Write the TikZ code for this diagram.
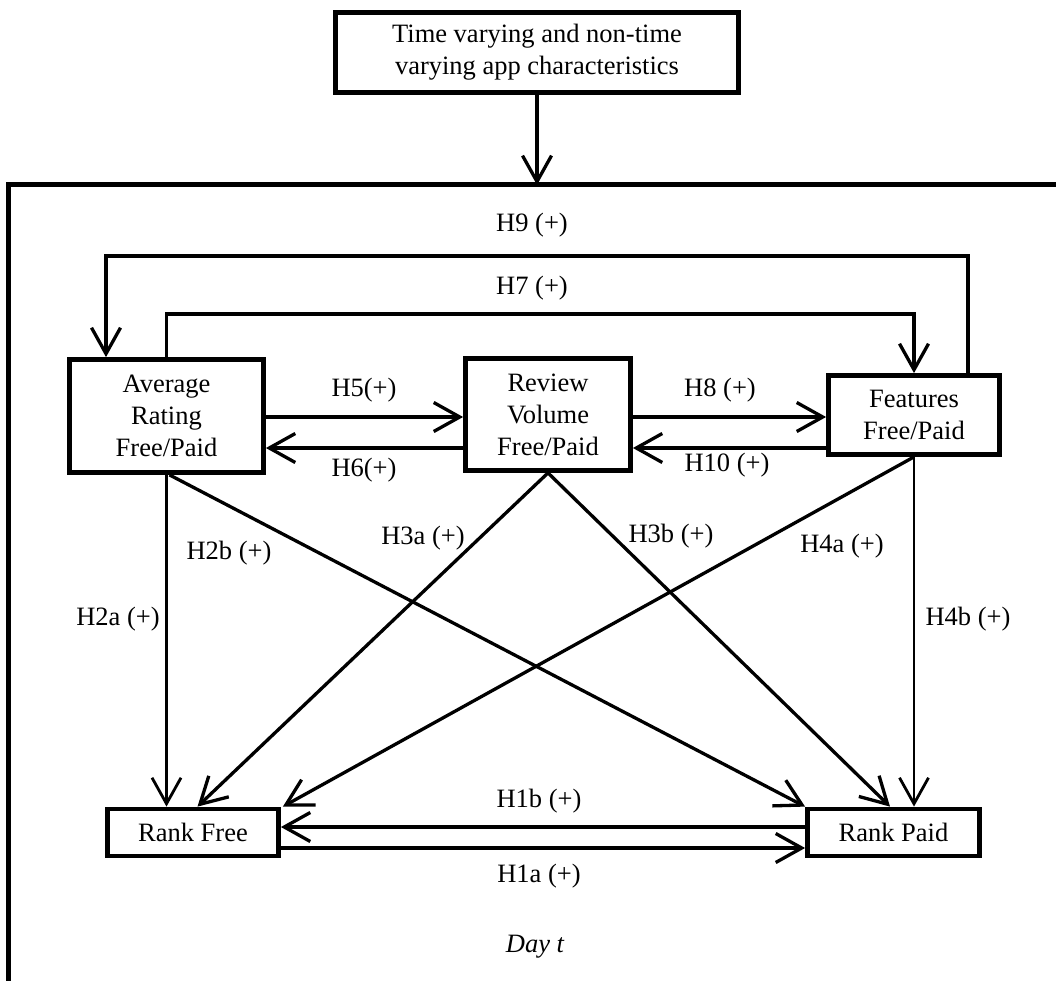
\documentclass[tikz,border=0pt]{standalone}
\usepackage{fontspec}
\setmainfont{Liberation Serif}
\usetikzlibrary{arrows.meta,calc}
\begin{document}
\begin{tikzpicture}[x=1pt,y=-1pt,
  box/.style={draw,line width=4.8pt,align=center,inner sep=0pt,font=\fontsize{26.5}{32}\selectfont},
  lbl/.style={font=\fontsize{26.5}{32}\selectfont,inner sep=0pt},
  arr/.style={line width=3.3pt,-{Straight Barb[length=26pt,width=29pt]}},
  thin arr/.style={arr,line width=2.8pt}]
\useasboundingbox (0,0) rectangle (1056,981);
% boxes
\node[box,minimum width=403pt,minimum height=80pt] (top) at (537,52.5) {Time varying and non-time\\varying app characteristics};
\node[box,minimum width=194pt,minimum height=113pt] (avg) at (166.5,416) {Average\\Rating\\Free/Paid};
\node[box,minimum width=165pt,minimum height=112pt] (rv) at (548,414.5) {Review\\Volume\\Free/Paid};
\node[box,minimum width=171pt,minimum height=79pt] (feat) at (914,415) {Features\\Free/Paid};
\node[box,minimum width=171pt,minimum height=47pt] (rf) at (193,832.5) {Rank Free};
\node[box,minimum width=172pt,minimum height=47pt] (rp) at (893.5,832.5) {Rank Paid};
% frame
\coordinate (frtl) at (8,185);
\draw[line width=5pt] (8,995) -- (frtl) -- (1070,185);
\draw[arr] (top.south) -- (top.south |- frtl);
% H9
\coordinate (h9a) at ([xshift=54pt]feat.north);
\coordinate (h9b) at ([xshift=-60.5pt]avg.north);
\coordinate (h9y) at (0,256);
\draw[arr] (h9a) -- (h9a |- h9y) -- (h9b |- h9y) -- (h9b);
% H7
\coordinate (h7y) at (0,314);
\draw[arr] (avg.north) -- (avg.north |- h7y) -- (feat.north |- h7y) -- (feat.north);
% horizontal pairs
\coordinate (h5a) at ([yshift=-1pt]avg.east);
\draw[arr] (h5a) -- (h5a -| rv.west);
\coordinate (h6a) at ([yshift=-32pt]avg.east);
\draw[arr] (h6a -| rv.west) -- (h6a);
\coordinate (h8a) at ([yshift=-2.5pt]rv.east);
\draw[arr] (h8a) -- (h8a -| feat.west);
\coordinate (h10a) at ([yshift=-33.5pt]rv.east);
\draw[arr] (h10a -| feat.west) -- (h10a);
\coordinate (h1b) at ([yshift=5.5pt]rp.west);
\draw[arr] (h1b) -- (h1b -| rf.east);
\coordinate (h1a) at ([yshift=-15.5pt]rf.east);
\draw[arr] (h1a) -- (h1a -| rp.west);
% diagonals and verticals
\draw[thin arr] (avg.south) -- (avg.south |- rf.north);
\draw[arr] ([xshift=3pt]avg.south) -- (rp.north west);
\draw[arr] (rv.south) -- ([xshift=4.5pt]rf.north);
\draw[arr] (rv.south) -- ([xshift=-3.5pt]rp.north);
\draw[arr] (feat.south) -- ([xshift=2pt]rf.north east);
\draw[thin arr] (feat.south) -- (feat.south |- rp.north);
% labels
\node[lbl] (l9) at (532,225) {H9 (+)};
\node[lbl] (l7) at (532,288) {H7 (+)};
\node[lbl] (l5) at (364,390) {H5(+)};
\node[lbl] (l6) at (364,470) {H6(+)};
\node[lbl] (l8) at (720,390) {H8 (+)};
\node[lbl] (l10) at (727,465) {H10 (+)};
\node[lbl] (l3a) at (423,538) {H3a (+)};
\node[lbl] (l2b) at (229,553) {H2b (+)};
\node[lbl] (l3b) at (671,536) {H3b (+)};
\node[lbl] (l4a) at (842,546) {H4a (+)};
\node[lbl] (l2a) at (118,619) {H2a (+)};
\node[lbl] (l4b) at (968,619) {H4b (+)};
\node[lbl] (l1b) at (539,801) {H1b (+)};
\node[lbl] (l1a) at (539,876) {H1a (+)};
\node[lbl,font=\fontsize{26.5}{32}\selectfont\itshape] (day) at (535,947) {Day t};
\end{tikzpicture}
\end{document}
